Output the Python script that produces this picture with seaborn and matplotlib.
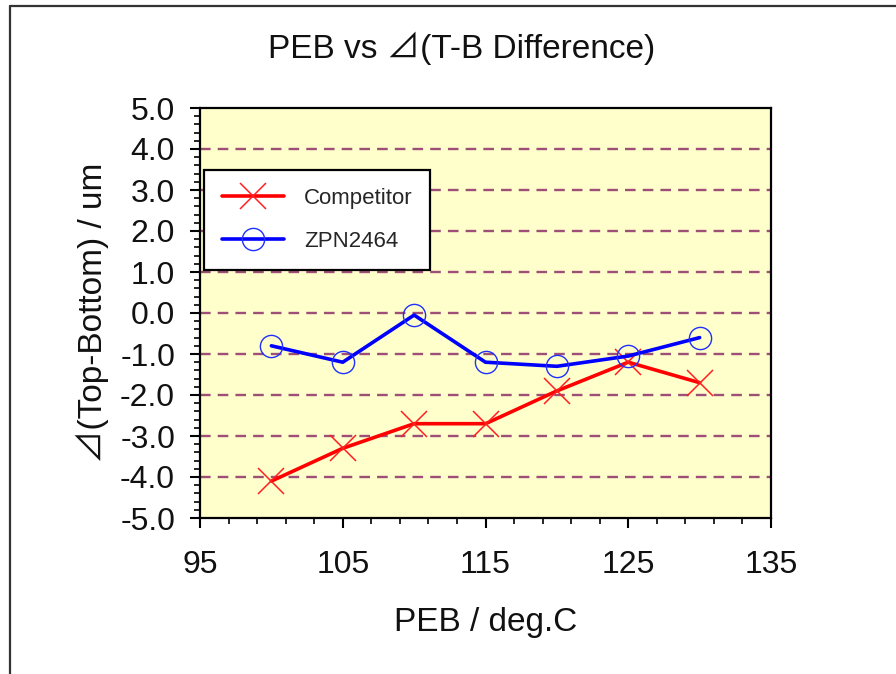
import numpy as np
import pandas as pd
import matplotlib
matplotlib.use("Agg")
import matplotlib.pyplot as plt
from matplotlib.ticker import FixedLocator, FormatStrFormatter
from matplotlib.lines import Line2D
import seaborn as sns

# ---- data ----
peb = [100, 105, 110, 115, 120, 125, 130]
competitor = [-4.1, -3.3, -2.7, -2.7, -1.9, -1.2, -1.7]
zpn2464 = [-0.8, -1.2, -0.05, -1.2, -1.3, -1.05, -0.6]
series_names = ["Competitor", "ZPN2464"]
x_major = [95, 105, 115, 125, 135]
y_major = [-5.0, -4.0, -3.0, -2.0, -1.0, 0.0, 1.0, 2.0, 3.0, 4.0, 5.0]
title = "PEB vs \u22bf(T-B Difference)"
xlabel = "PEB / deg.C"
ylabel = "\u22bf(Top-Bottom) / um"

sns.set_style("white")
plt.rcParams["font.family"] = ["Liberation Sans", "Noto Sans CJK JP", "DejaVu Sans"]
plt.rcParams["axes.unicode_minus"] = False

fig = plt.figure(figsize=(8.96, 6.74), dpi=100)
ax = fig.add_axes([200 / 896, 1 - 518 / 674, 571 / 896, 410 / 674])
ax.set_facecolor("#FFFFCC")

# frame lines (left + top)
fig.add_artist(Line2D([10 / 896, 10 / 896], [0, 1 - 6 / 674], transform=fig.transFigure,
                      color="#333333", lw=1.6))
fig.add_artist(Line2D([10 / 896, 1], [1 - 6 / 674, 1 - 6 / 674], transform=fig.transFigure,
                      color="#333333", lw=1.6))

# dashed grid lines
for yv in y_major[1:-1]:
    ax.axhline(yv, color="#9E4F78", lw=1.7, ls=(0, (4.5, 3)), zorder=1)

sns.lineplot(x=peb, y=competitor, ax=ax, color="#FF0000", lw=2.6, marker="x",
             markersize=19, mew=1.1, mec="#FF2020", label=series_names[0], zorder=3)
sns.lineplot(x=peb, y=zpn2464, ax=ax, color="#0000FF", lw=2.6, marker="o",
             markersize=16, mew=1.0, mfc="none", mec="#2030FF", label=series_names[1], zorder=4)

ax.set_xlim(95, 135)
ax.set_ylim(-5, 5)
ax.xaxis.set_major_locator(FixedLocator(x_major))
ax.xaxis.set_minor_locator(FixedLocator(np.arange(95, 136, 2)))
ax.yaxis.set_major_locator(FixedLocator(y_major))
ax.yaxis.set_minor_locator(FixedLocator(np.arange(-5, 5.01, 0.2)))
ax.yaxis.set_major_formatter(FormatStrFormatter("%.1f"))

for s in ax.spines.values():
    s.set_visible(True)
    s.set_color("black")
    s.set_linewidth(1.6)

ax.tick_params(axis="both", which="major", direction="out", length=7, width=1.5,
               color="black", labelsize=23, labelcolor="#111111")
ax.tick_params(axis="both", which="minor", direction="out", length=4.5, width=1.2,
               color="black")
ax.tick_params(axis="x", which="major", pad=16)
ax.tick_params(axis="y", which="major", pad=11)
ax.tick_params(axis="both", which="both", bottom=True, left=True)

ax.set_xlabel(xlabel, fontsize=24, color="#111111")
ax.set_ylabel(ylabel, fontsize=24, color="#111111")
ax.xaxis.set_label_coords(0.5, (518 - 622) / 410)
ax.xaxis.label.set_va("center")
ax.yaxis.set_label_coords((92 - 200) / 571, 0.5)
ax.yaxis.label.set_va("center")

fig.text(462 / 896, 1 - 48 / 674, title, fontsize=24, color="#111111",
         ha="center", va="center")

leg = ax.legend(loc="upper left", bbox_to_anchor=(0.007, 0.849), borderaxespad=0,
                fancybox=False, edgecolor="black", framealpha=1, fontsize=16,
                handlelength=2.8, handletextpad=0.9, labelspacing=1.0,
                borderpad=0.8)
leg.get_frame().set_linewidth(1.6)
leg.set_zorder(10)

fig.savefig("out.png", dpi=100, facecolor="white")
